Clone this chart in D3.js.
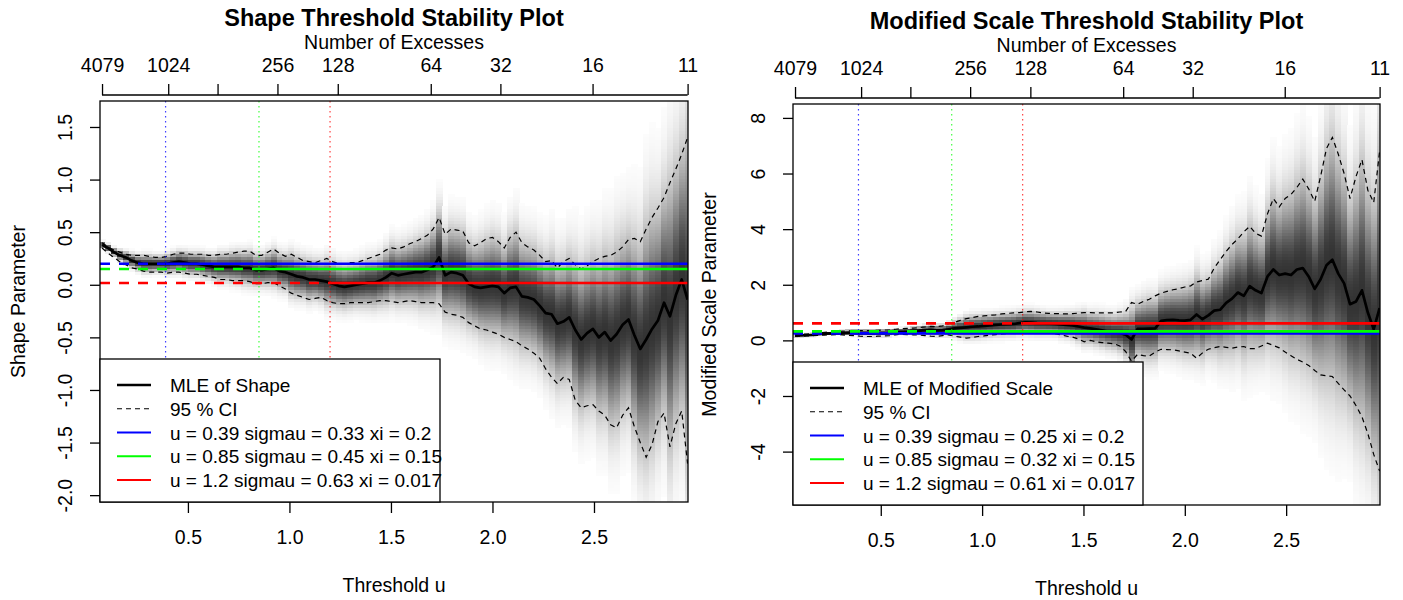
<!DOCTYPE html>
<html>
<head>
<meta charset="utf-8">
<script src="https://cdn.jsdelivr.net/npm/d3@7"></script>
<style>
body { margin: 0; background: #fff; }
svg text { font-family: "Liberation Sans", Arial, sans-serif; fill: #000; }
</style>
</head>
<body>
<svg id="chart" width="1403" height="600"></svg>
<script>
// thresholds u tried (evmix style grid)
var thresholds = [0.077,0.106,0.135,0.164,0.194,0.223,0.252,0.281,0.310,0.339,
	0.368,0.397,0.427,0.456,0.485,0.514,0.543,0.572,0.601,0.630,
	0.660,0.689,0.718,0.747,0.776,0.805,0.834,0.864,0.893,0.922,
	0.951,0.980,1.009,1.038,1.067,1.097,1.126,1.155,1.184,1.213,
	1.242,1.271,1.300,1.330,1.359,1.388,1.417,1.446,1.475,1.504,
	1.534,1.563,1.592,1.621,1.650,1.679,1.708,1.737,1.767,1.796,
	1.825,1.854,1.883,1.912,1.941,1.971,2.000,2.029,2.058,2.087,
	2.116,2.145,2.174,2.204,2.233,2.262,2.291,2.320,2.349,2.378,
	2.408,2.437,2.466,2.495,2.524,2.553,2.582,2.611,2.641,2.670,
	2.699,2.728,2.757,2.786,2.815,2.845,2.874,2.903,2.932,2.961];

// shape parameter: MLE and 95% CI
var shapeMLE = [0.38,0.35,0.31,0.28,0.26,0.23,0.21,0.20,0.20,0.20,
	0.20,0.20,0.21,0.22,0.21,0.20,0.20,0.19,0.18,0.17,
	0.17,0.17,0.17,0.17,0.16,0.16,0.14,0.14,0.15,0.16,
	0.13,0.12,0.10,0.08,0.07,0.05,0.05,0.04,0.03,0.01,
	-0.01,-0.02,-0.01,0.00,0.01,0.02,0.02,0.04,0.07,0.11,
	0.09,0.10,0.11,0.12,0.12,0.14,0.17,0.26,0.09,0.12,
	0.11,0.09,0.01,-0.02,-0.03,-0.02,-0.01,-0.02,-0.08,-0.03,
	-0.02,-0.11,-0.12,-0.14,-0.20,-0.27,-0.28,-0.37,-0.35,-0.31,
	-0.43,-0.52,-0.46,-0.42,-0.50,-0.45,-0.53,-0.47,-0.38,-0.33,
	-0.48,-0.61,-0.52,-0.42,-0.34,-0.17,-0.30,-0.10,0.05,-0.14];
var shapeUpper = [0.40,0.36,0.33,0.31,0.29,0.28,0.28,0.28,0.27,0.26,
	0.26,0.27,0.29,0.30,0.30,0.29,0.29,0.29,0.28,0.28,
	0.29,0.29,0.30,0.31,0.32,0.32,0.28,0.28,0.31,0.34,
	0.30,0.27,0.29,0.26,0.23,0.22,0.21,0.23,0.25,0.22,
	0.20,0.20,0.21,0.21,0.23,0.25,0.27,0.29,0.33,0.35,
	0.34,0.36,0.39,0.41,0.44,0.47,0.53,0.64,0.48,0.53,
	0.52,0.51,0.40,0.37,0.40,0.44,0.45,0.41,0.35,0.45,
	0.50,0.40,0.36,0.33,0.28,0.22,0.23,0.16,0.22,0.25,
	0.19,0.15,0.18,0.22,0.25,0.27,0.28,0.31,0.36,0.43,
	0.44,0.41,0.53,0.64,0.73,0.83,0.97,1.10,1.24,1.40];
var shapeLower = [0.35,0.30,0.26,0.22,0.19,0.16,0.15,0.13,0.12,0.12,
	0.12,0.11,0.12,0.12,0.11,0.10,0.10,0.09,0.08,0.07,
	0.05,0.05,0.04,0.04,0.04,0.03,0.01,0.01,0.02,0.02,
	-0.01,-0.04,-0.08,-0.10,-0.12,-0.14,-0.13,-0.12,-0.15,-0.17,
	-0.18,-0.18,-0.17,-0.17,-0.17,-0.17,-0.16,-0.15,-0.15,-0.16,
	-0.17,-0.16,-0.15,-0.16,-0.17,-0.17,-0.17,-0.18,-0.26,-0.28,
	-0.29,-0.31,-0.36,-0.39,-0.42,-0.43,-0.45,-0.47,-0.50,-0.52,
	-0.54,-0.58,-0.61,-0.65,-0.70,-0.80,-0.88,-0.94,-0.88,-0.90,
	-1.10,-1.17,-1.15,-1.14,-1.20,-1.24,-1.33,-1.36,-1.24,-1.17,
	-1.35,-1.50,-1.64,-1.52,-1.30,-1.22,-1.54,-1.32,-1.20,-1.70];

// modified scale parameter: MLE and 95% CI
var modMLE = [0.17,0.18,0.19,0.20,0.22,0.24,0.25,0.26,0.27,0.28,
	0.28,0.27,0.27,0.26,0.27,0.27,0.28,0.30,0.31,0.32,
	0.34,0.35,0.37,0.38,0.36,0.37,0.40,0.43,0.45,0.47,
	0.49,0.50,0.52,0.54,0.56,0.57,0.58,0.59,0.62,0.65,
	0.64,0.62,0.61,0.60,0.59,0.57,0.56,0.54,0.50,0.46,
	0.43,0.40,0.36,0.32,0.29,0.27,0.20,0.03,0.41,0.41,
	0.42,0.43,0.70,0.73,0.74,0.72,0.71,0.74,0.93,0.76,
	0.90,1.07,1.10,1.35,1.50,1.72,1.60,1.95,1.80,1.70,
	2.30,2.55,2.35,2.40,2.35,2.55,2.60,2.30,1.85,2.20,
	2.70,2.90,2.40,2.05,1.30,1.40,1.80,1.00,0.40,1.16];
var modUpper = [0.20,0.22,0.23,0.25,0.27,0.29,0.30,0.31,0.33,0.34,
	0.35,0.35,0.35,0.35,0.36,0.37,0.38,0.40,0.42,0.43,
	0.44,0.46,0.48,0.50,0.49,0.52,0.60,0.65,0.72,0.78,
	0.82,0.86,0.88,0.90,0.92,0.95,0.97,0.99,1.00,1.03,
	1.04,1.02,0.99,0.97,0.96,0.96,0.95,0.96,0.98,1.00,
	1.00,0.99,0.99,0.99,0.99,1.02,1.04,1.36,1.30,1.40,
	1.48,1.60,1.70,1.76,1.82,1.86,1.92,1.96,2.10,2.15,
	2.20,2.60,2.90,3.20,3.45,3.65,3.90,4.10,3.85,3.75,
	4.55,5.10,4.80,5.10,5.25,5.50,5.80,5.45,5.00,5.90,
	6.90,7.30,6.70,6.00,5.10,5.90,6.50,5.40,4.95,6.80];
var modLower = [0.14,0.15,0.16,0.17,0.18,0.19,0.20,0.21,0.20,0.18,
	0.17,0.15,0.14,0.14,0.15,0.16,0.17,0.20,0.22,0.21,
	0.20,0.19,0.17,0.15,0.14,0.17,0.20,0.15,0.12,0.08,
	0.10,0.14,0.16,0.19,0.21,0.23,0.25,0.26,0.27,0.28,
	0.28,0.27,0.26,0.26,0.24,0.20,0.15,0.12,0.05,-0.05,
	0.00,-0.05,-0.08,-0.10,-0.12,-0.20,-0.40,-0.75,-0.50,-0.55,
	-0.56,-0.42,-0.32,-0.33,-0.34,-0.38,-0.42,-0.46,-0.64,-0.45,
	-0.32,-0.26,-0.22,-0.25,-0.28,-0.24,-0.22,-0.30,-0.30,-0.20,
	-0.10,-0.18,-0.27,-0.42,-0.55,-0.68,-0.78,-0.90,-1.08,-1.24,
	-1.27,-1.30,-1.55,-1.78,-2.00,-2.35,-2.75,-3.35,-4.10,-4.70];

// top axis: number of excesses (label for 512 dropped by R, overlap)
var excessTickU = [0.077, 0.403, 0.646, 0.941, 1.238, 1.696, 2.039, 2.493, 2.961];
var excessTickLabels = ["4079", "1024", "", "256", "128", "64", "32", "16", "11"];

var uTicks = [0.5, 1.0, 1.5, 2.0, 2.5];
var shapeTicks = [-2.0, -1.5, -1.0, -0.5, 0.0, 0.5, 1.0, 1.5];
var modTicks = [-4, -2, 0, 2, 4, 6, 8];

// the three thresholds tried
var tryU = [0.39, 0.85, 1.2];
var trySigmau = [0.33, 0.45, 0.63];
var tryXi = [0.2, 0.15, 0.017];
var tryModScale = [0.25, 0.32, 0.61];
var tryColors = ["#0000ff", "#00ff00", "#ff0000"];

[shapeMLE, shapeUpper, shapeLower, modMLE, modUpper, modLower].forEach(function(a) {
	if (a.length != thresholds.length) throw new Error("bad length " + a.length);
});

var svg = d3.select("#chart");
var uDomain = [0.067, 2.963];

function drawPanel(p) {
	var g = svg.append("g");

	var x = d3.scaleLinear().domain(uDomain).range([p.left, p.right]);
	var y = d3.scaleLinear().domain(p.yDomain).range([p.bottom, p.top]);

	g.append("clipPath").attr("id", "clip" + p.id)
	.append("rect")
	.attr("x", p.left).attr("y", p.top)
	.attr("width", p.right - p.left).attr("height", p.bottom - p.top);

	var plot = g.append("g").attr("clip-path", "url(#clip" + p.id + ")");

	// grey density strips, one per threshold
	var colW = x(thresholds[1]) - x(thresholds[0]);
	var rowH = 3;
	var cells = [];
	thresholds.forEach(function(u, i) {
		var se = (p.upper[i] - p.lower[i]) / 3.92;
		for (var py = p.top; py < p.bottom; py += rowH) {
			var z = (y.invert(py + rowH / 2) - p.mle[i]) / se;
			var dark = 0.8 * Math.exp(-0.5 * z * z / 1.5);
			if (dark > 0.012) cells.push({x: x(u) - colW / 2, y: py, g: Math.round(255 * (1 - dark))});
		}
	});
	plot.append("g").attr("shape-rendering", "crispEdges")
	.selectAll("rect").data(cells).enter().append("rect")
	.attr("x", d => d.x).attr("y", d => d.y)
	.attr("width", colW + 0.6).attr("height", rowH + 0.4)
	.attr("fill", d => "rgb(" + d.g + "," + d.g + "," + d.g + ")");

	var line = d3.line().x((d, i) => x(thresholds[i])).y(d => y(d));

	[p.upper, p.lower].forEach(function(s) {
		plot.append("path").datum(s)
		.attr("d", line).attr("fill", "none")
		.attr("stroke", "#000").attr("stroke-width", 1.2)
		.attr("stroke-dasharray", "5,4");
	});

	plot.append("path").datum(p.mle)
	.attr("d", line).attr("fill", "none")
	.attr("stroke", "#000").attr("stroke-width", 2.7)
	.attr("stroke-linejoin", "round");

	// tried thresholds: dashed below u, solid above, dotted vertical at u
	tryU.forEach(function(u, k) {
		var yy = y(p.tryVal[k]);
		plot.append("line")
		.attr("x1", x(u)).attr("x2", x(u)).attr("y1", p.top).attr("y2", p.bottom)
		.attr("stroke", tryColors[k]).attr("stroke-width", 1.2)
		.attr("stroke-dasharray", "1.5,3.5").attr("opacity", 0.75);
		plot.append("line")
		.attr("x1", p.left).attr("x2", x(u)).attr("y1", yy).attr("y2", yy)
		.attr("stroke", tryColors[k]).attr("stroke-width", 2.7)
		.attr("stroke-dasharray", "10,9");
		plot.append("line")
		.attr("x1", x(u)).attr("x2", p.right).attr("y1", yy).attr("y2", yy)
		.attr("stroke", tryColors[k]).attr("stroke-width", 2.7);
	});

	g.append("rect")
	.attr("x", p.left).attr("y", p.top)
	.attr("width", p.right - p.left).attr("height", p.bottom - p.top)
	.attr("fill", "none").attr("stroke", "#000").attr("stroke-width", 1.3);

	// axes
	var yAxis = g.append("g")
	.attr("transform", `translate(${p.left},0)`)
	.call(d3.axisLeft(y).tickValues(p.yTicks).tickSize(10).tickFormat(p.yFmt));
	yAxis.attr("font-size", null).attr("font-family", null);
	yAxis.select(".domain").remove();
	yAxis.selectAll("line").attr("stroke", "#000").attr("stroke-width", 1.3);
	yAxis.selectAll("text")
	.attr("x", null).attr("dy", null)
	.attr("text-anchor", "middle")
	.attr("transform", "translate(-28,0) rotate(-90)")
	.style("font-size", "19.5px");

	var xAxis = g.append("g")
	.attr("transform", `translate(0,${p.bottom})`)
	.call(d3.axisBottom(x).tickValues(uTicks).tickSize(11).tickFormat(d => d.toFixed(1)));
	xAxis.attr("font-size", null).attr("font-family", null);
	xAxis.select(".domain").remove();
	xAxis.selectAll("line").attr("stroke", "#000").attr("stroke-width", 1.3);
	xAxis.selectAll("text").attr("y", 42).attr("dy", null).style("font-size", "19.5px");

	var topY = p.top - 6;
	var tAxis = g.append("g")
	.attr("transform", `translate(0,${topY})`)
	.call(d3.axisTop(x).tickValues(excessTickU).tickSize(11).tickFormat((d, i) => excessTickLabels[i]));
	tAxis.attr("font-size", null).attr("font-family", null);
	tAxis.select(".domain").remove();
	tAxis.append("line")
	.attr("x1", x(excessTickU[0])).attr("x2", x(excessTickU[excessTickU.length - 1]))
	.attr("stroke", "#000").attr("stroke-width", 1.3);
	tAxis.selectAll("line").attr("stroke", "#000").attr("stroke-width", 1.3);
	tAxis.selectAll("text").attr("y", -23).attr("dy", null).style("font-size", "19.5px");

	var cx = (p.left + p.right) / 2;
	g.append("text").attr("x", cx).attr("y", p.top - 75)
	.attr("text-anchor", "middle").style("font-size", "23.5px").style("font-weight", "bold")
	.text(p.title);
	g.append("text").attr("x", cx).attr("y", p.top - 52)
	.attr("text-anchor", "middle").style("font-size", "19.5px")
	.text("Number of Excesses");
	g.append("text").attr("x", cx).attr("y", p.bottom + 90)
	.attr("text-anchor", "middle").style("font-size", "19.5px")
	.text("Threshold u");
	g.append("text")
	.attr("transform", `translate(${p.left - p.ylabOff},${(p.top + p.bottom) / 2}) rotate(-90)`)
	.attr("text-anchor", "middle").style("font-size", "19.5px")
	.text(p.ylab);

	// legend
	var items = [
		{label: p.mleLabel, color: "#000", w: 2.7, dash: null},
		{label: "95 % CI", color: "#000", w: 1.2, dash: "5,4"}
	];
	tryU.forEach(function(u, k) {
		items.push({label: "u = " + u + " sigmau = " + p.legSigmau[k] + " xi = " + tryXi[k],
			color: tryColors[k], w: 1.8, dash: null});
	});
	var legTop = p.bottom - 143;
	var lg = g.append("g");
	lg.append("rect")
	.attr("x", p.left).attr("y", legTop)
	.attr("width", p.legW).attr("height", p.bottom - legTop)
	.attr("fill", "#fff").attr("stroke", "#000").attr("stroke-width", 1.3);
	items.forEach(function(it, k) {
		var yy = legTop + 26 + k * 23.75;
		lg.append("line")
		.attr("x1", p.left + 17).attr("x2", p.left + 51).attr("y1", yy).attr("y2", yy)
		.attr("stroke", it.color).attr("stroke-width", it.w)
		.attr("stroke-dasharray", it.dash);
		lg.append("text")
		.attr("x", p.left + 70).attr("y", yy + 7)
		.style("font-size", "19px")
		.text(it.label);
	});
}

drawPanel({
	id: "shape", left: 100, right: 688, top: 101, bottom: 502,
	yDomain: [-2.065, 1.747], yTicks: shapeTicks, yFmt: d => d.toFixed(1),
	mle: shapeMLE, upper: shapeUpper, lower: shapeLower, tryVal: tryXi,
	title: "Shape Threshold Stability Plot", ylab: "Shape Parameter", ylabOff: 75,
	mleLabel: "MLE of Shape", legSigmau: trySigmau, legW: 340
});

drawPanel({
	id: "mod", left: 793, right: 1380, top: 104, bottom: 505,
	yDomain: [-5.92, 8.5], yTicks: modTicks, yFmt: d => String(d),
	mle: modMLE, upper: modUpper, lower: modLower, tryVal: tryModScale,
	title: "Modified Scale Threshold Stability Plot", ylab: "Modified Scale Parameter", ylabOff: 77,
	mleLabel: "MLE of Modified Scale", legSigmau: tryModScale, legW: 350
});
</script>
</body>
</html>
